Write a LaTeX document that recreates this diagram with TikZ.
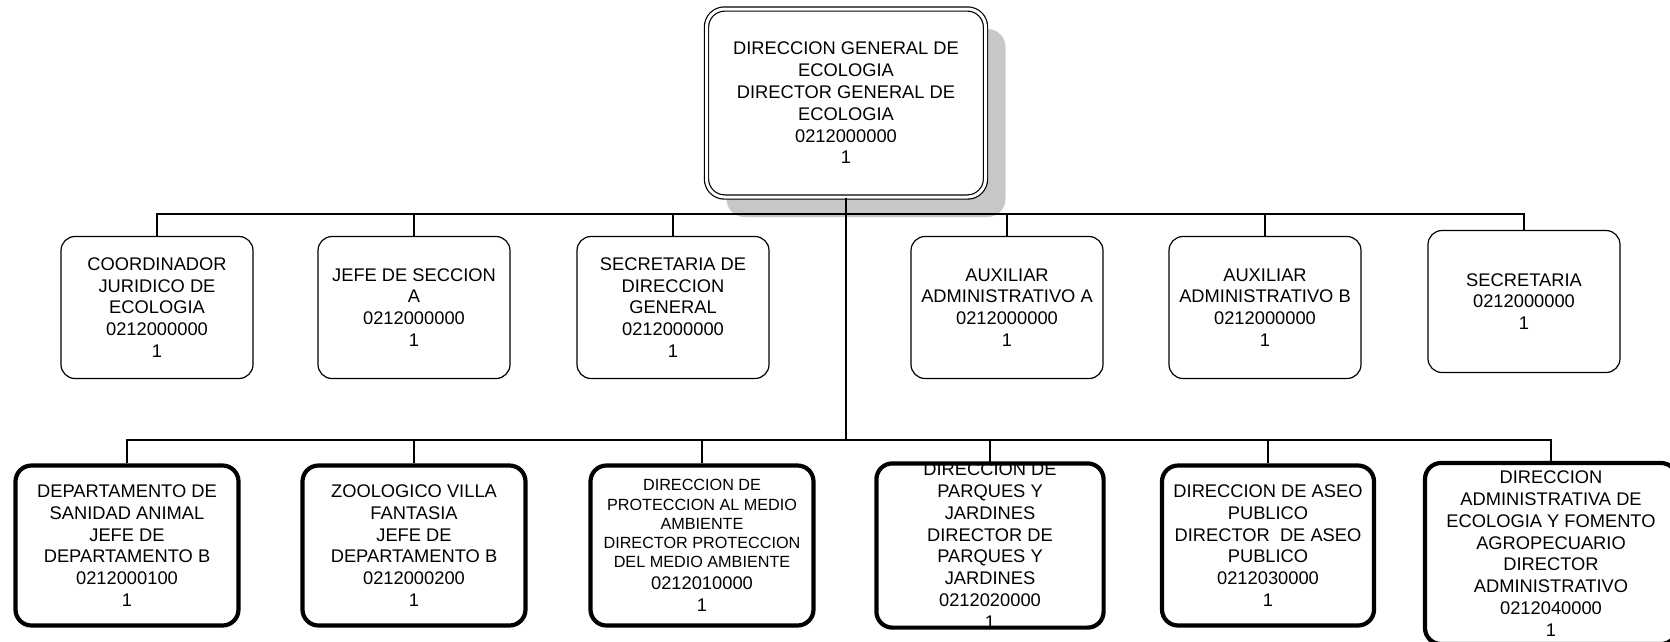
\documentclass[tikz,border=0pt]{standalone}
\usepackage{fontspec}
\setmainfont{Liberation Sans}
\usetikzlibrary{positioning,shadows}

\newcommand\smline[1]{{\fontsize{16.2}{19.2}\selectfont #1}}

\tikzset{
	unit/.style={draw, fill=white, rounded corners=14pt, line width=1.2pt, align=center, inner sep=0pt,
		minimum width=192pt, minimum height=142pt, font=\fontsize{18.3}{21.8}\selectfont},
	dept/.style={unit, line width=4.2pt, rounded corners=16pt, minimum width=223pt, minimum height=160pt},
	head/.style={unit, double, double distance=3pt, rounded corners=18pt, minimum width=279pt, minimum height=188pt,
		drop shadow={shadow xshift=20pt, shadow yshift=-20pt, fill=black!22, opacity=1}},
	link/.style={line width=1.3pt},
}

\begin{document}
\begin{tikzpicture}[x=1pt,y=-1pt,on grid]
	\useasboundingbox (0,0) rectangle (1670,641);

	\node[head] (head) at (846,103) {DIRECCION GENERAL DE\\ ECOLOGIA\\ DIRECTOR GENERAL DE\\ ECOLOGIA\\ 0212000000\\ 1};

	% second level
	\node[unit] (m1) at (157,307.5) {COORDINADOR\\ JURIDICO DE\\ ECOLOGIA\\ 0212000000\\ 1};
	\node[unit] (m2) [right=257pt of m1] {JEFE DE SECCION\\ A\\ 0212000000\\ 1};
	\node[unit] (m3) [right=259pt of m2] {SECRETARIA DE\\ DIRECCION\\ GENERAL\\ 0212000000\\ 1};
	\node[unit] (m4) [right=334pt of m3] {AUXILIAR\\ ADMINISTRATIVO A\\ 0212000000\\ 1};
	\node[unit] (m5) [right=258pt of m4] {AUXILIAR\\ ADMINISTRATIVO B\\ 0212000000\\ 1};
	\node[unit] (m6) at (1524,301.5) {SECRETARIA\\ 0212000000\\ 1};

	% third level
	\node[dept] (b1) at (127,545.5) {DEPARTAMENTO DE\\ SANIDAD ANIMAL\\ JEFE DE\\ DEPARTAMENTO B\\ 0212000100\\ 1};
	\node[dept] (b2) [right=287pt of b1] {ZOOLOGICO VILLA\\ FANTASIA\\ JEFE DE\\ DEPARTAMENTO B\\ 0212000200\\ 1};
	\node[dept] (b3) [right=288pt of b2] {\smline{DIRECCION DE}\\[-2.6pt] \smline{PROTECCION AL MEDIO}\\[-2.6pt]
		\smline{AMBIENTE}\\[-2.6pt] \smline{DIRECTOR PROTECCION}\\[-2.6pt] \smline{DEL MEDIO AMBIENTE}\\ 0212010000\\ 1};
	\node[dept, draw=none] (b4) [right=288pt of b3] {};
	\node[dept, minimum width=212pt] (b5) [right=278pt of b4] {DIRECCION DE ASEO\\ PUBLICO\\ DIRECTOR~~DE ASEO\\ PUBLICO\\ 0212030000\\ 1};
	\node[dept, minimum width=252pt, minimum height=181pt] (b6) at (1551,553.5) {DIRECCION\\ ADMINISTRATIVA DE\\ ECOLOGIA Y FOMENTO\\ AGROPECUARIO\\ DIRECTOR\\ ADMINISTRATIVO\\ 0212040000\\ 1};

	% text that runs over its box
	\begin{scope}
		\clip[rounded corners=16pt] (b4.north west) rectangle (b4.south east);
		\node[align=center, inner sep=0pt, font=\fontsize{18.3}{21.8}\selectfont] (b4txt) at (b4.center)
			{DIRECCION DE\\ PARQUES Y\\ JARDINES\\ DIRECTOR DE\\ PARQUES Y\\ JARDINES\\ 0212020000\\ 1};
	\end{scope}
	\draw[line width=4.2pt, rounded corners=16pt] (b4.north west) rectangle (b4.south east);

	% connectors
	\coordinate (upbus) at (846,214);
	\coordinate (lowbus) at (846,440);
	\draw[link] (head.south) -- (lowbus);
	\foreach \n in {m1,m2,m3,m4,m5,m6}
		\draw[link] (upbus) -| (\n.north);
	\foreach \n in {b1,b2,b3,b4,b5,b6}
		\draw[link] (lowbus) -| (\n.north);
\end{tikzpicture}
\end{document}
